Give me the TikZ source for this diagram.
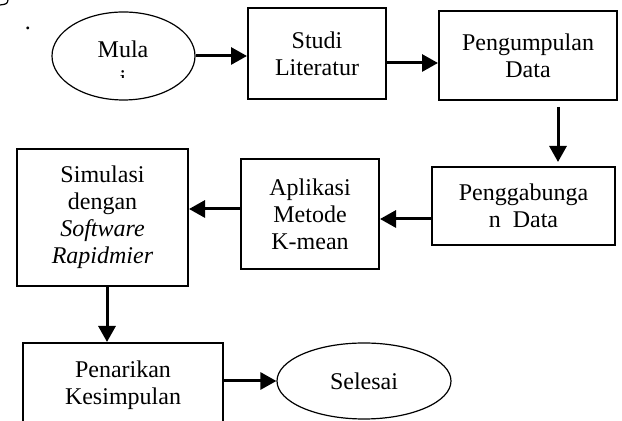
\documentclass[tikz,border=0pt]{standalone}
\usepackage{fontspec}
\setmainfont{Liberation Serif}
\usetikzlibrary{arrows.meta,shapes.geometric}
\begin{document}
\begin{tikzpicture}[x=0.5pt,y=-0.5pt,
  font=\fontsize{12}{13.5}\selectfont,
  box/.style={draw,line width=1pt,rectangle,inner sep=0pt,align=center},
  oval/.style={draw,line width=0.6pt,ellipse,inner sep=0pt,align=center},
  arr/.style={line width=1.5pt,-{Triangle[length=8pt,width=8.5pt]}}]
\useasboundingbox (0,0) rectangle (622,421);
% stray marks
\draw[line width=0.6pt] (8,0) .. controls (7,4) .. (0,5);
\node[inner sep=0pt] (dot) at (28,28) {.};
% nodes
\node[oval,minimum width=143pt*0.5,minimum height=88pt*0.5] (mula) at (123.5,56) {};
\node[inner sep=0pt] (mulatext) at (123,49) {Mula};
\begin{scope}
  \clip (100,66) rectangle (150,78);
  \node[inner sep=0pt] (mulai) at (123,79) {i};
\end{scope}
\node[box,minimum width=69pt,minimum height=45.5pt] (studi) at (317,53.5) {Studi\\Literatur};
\node[box,minimum width=89pt,minimum height=44.5pt] (peng) at (528,55.5) {Pengumpulan\\Data};
\node[box,minimum width=91.5pt,minimum height=39pt] (gab) at (523.5,206) {Penggabunga\\n\ \ Data};
\node[box,minimum width=69pt,minimum height=55pt] (apl) at (310,214) {Aplikasi\\Metode\\K-mean};
\node[box,minimum width=85.5pt,minimum height=68.5pt] (sim) at (102.5,217.5) {Simulasi\\dengan\\\textit{Software}\\\textit{Rapidmier}};
\node[box,minimum width=100pt,minimum height=42pt] (tarik) at (123,385) {Penarikan\\Kesimpulan};
\node[oval,minimum width=87pt,minimum height=38pt] (selesai) at (364,381) {Selesai};
% connectors
\draw[arr] (mula.east) -- (mula.east -| studi.west);
\draw[arr] ([yshift=-4.75pt]studi.east) -- ([yshift=-4.75pt]studi.east -| peng.west);
\coordinate (a1) at ([xshift=15pt,yshift=-3pt]peng.south);
\path (a1 |- gab.north) coordinate (a2);
\draw[arr] (a1) -- ([yshift=2pt]a2);
\draw[arr] ([yshift=-6.5pt]gab.west) -- ([yshift=-6.5pt]gab.west -| apl.east);
\draw[arr] ([yshift=2.5pt]apl.west) -- ([yshift=2.5pt]apl.west -| sim.east);
\coordinate (b1) at ([xshift=2.25pt]sim.south);
\draw[arr] (b1) -- (b1 |- tarik.north);
\draw[arr] (tarik.east |- selesai.west) -- (selesai.west);
\end{tikzpicture}
\end{document}
